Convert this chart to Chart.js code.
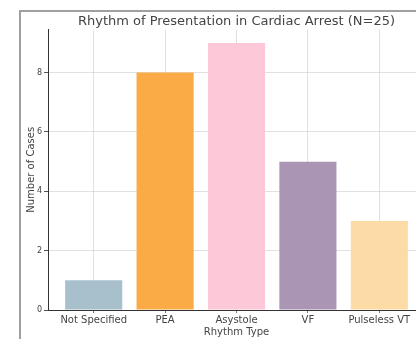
<!DOCTYPE html>
<html>
<head>
<meta charset="utf-8">
<script src="https://cdn.jsdelivr.net/npm/chart.js@4"></script>
<style>
  html, body { margin: 0; padding: 0; background: #fff; overflow: hidden; }
  body { width: 416px; height: 339px; position: relative; }
  #frame {
    position: absolute; left: 19px; top: 10px; width: 440px; height: 360px;
    border-left: 2px solid #a0a0a0; border-top: 2px solid #a0a0a0;
  }
  #chart { position: absolute; left: 0; top: 0; }
</style>
</head>
<body>
<div id="frame"></div>
<canvas id="chart" width="440" height="339"></canvas>
<script>
const rhythms = ['Not Specified', 'PEA', 'Asystole', 'VF', 'Pulseless VT'];
const cases = [1, 8, 9, 5, 3];
const barColors = ['#a8c0cc', '#fbab45', '#fdc8d8', '#aa96b4', '#fddba6'];
const yTicks = [0, 2, 4, 6, 8];

const font = 'DejaVu Sans';
const textColor = '#444';
const gridColor = 'rgba(200, 200, 200, 0.55)';

new Chart(document.getElementById('chart'), {
  type: 'bar',
  data: {
    datasets: [{
      data: cases.map((v, i) => ({ x: i, y: v })),
      backgroundColor: barColors,
      borderWidth: 0,
      barPercentage: 0.8,
      categoryPercentage: 1.0
    }]
  },
  options: {
    responsive: false,
    animation: false,
    layout: { padding: { left: 21, right: 15, top: 0, bottom: 0 } },
    plugins: {
      legend: { display: false },
      tooltip: { enabled: false },
      title: {
        display: true,
        fullSize: false,
        text: 'Rhythm of Presentation in Cardiac Arrest (N=25)',
        color: textColor,
        font: { family: font, size: 13, weight: 'normal' },
        padding: { top: 14, bottom: 0 }
      }
    },
    scales: {
      x: {
        type: 'linear',
        min: -0.64,
        max: 4.64,
        offset: false,
        z: 1,
        afterFit: s => { s.height = 29; },
        ticks: {
          stepSize: 1,
          includeBounds: false,
          autoSkip: false,
          maxRotation: 0,
          padding: 1,
          color: textColor,
          font: { family: font, size: 10 },
          callback: v => rhythms[v]
        },
        grid: { offset: false, color: gridColor, tickColor: '#777', tickLength: 3 },
        border: { color: '#333', width: 1 },
        title: {
          display: true,
          text: 'Rhythm Type',
          color: textColor,
          font: { family: font, size: 10 },
          padding: { top: 0, bottom: 1 }
        }
      },
      y: {
        min: 0,
        max: 9.45,
        z: 1,
        afterFit: s => { s.width = 27; },
        afterBuildTicks: s => { s.ticks = yTicks.map(v => ({ value: v })); },
        ticks: {
          padding: 2,
          color: textColor,
          font: { family: font, size: 8 }
        },
        grid: { color: gridColor, tickColor: '#555', tickLength: 4 },
        border: { color: '#333', width: 1 },
        title: {
          display: true,
          text: 'Number of Cases',
          color: textColor,
          font: { family: font, size: 10 },
          padding: { top: 4, bottom: 0 }
        }
      }
    }
  }
});
</script>
</body>
</html>
